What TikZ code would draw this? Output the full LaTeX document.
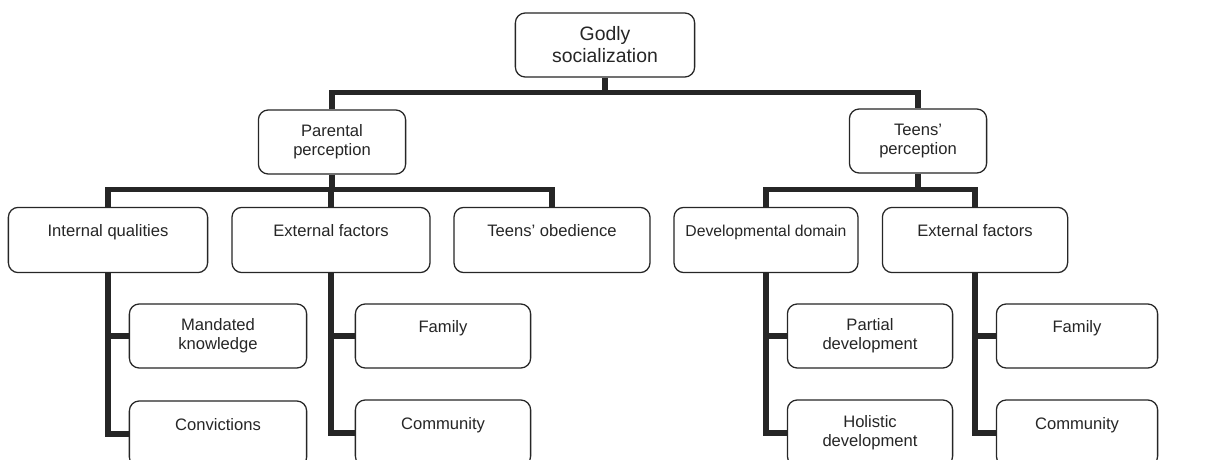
\documentclass[tikz,border=0pt]{standalone}
\usepackage{fontspec}
\setmainfont{Liberation Sans}
\definecolor{ink}{HTML}{262626}
\begin{document}
\begin{tikzpicture}[x=0.025cm, y=-0.025cm,
  every node/.style={font=\fontsize{11.8}{13.5}\selectfont, text=ink},
  box/.style={draw=ink, line width=0.9pt, rounded corners=7pt, fill=white,
    minimum height=1.6cm, inner sep=0pt, align=center},
  bar/.style={draw=ink, line width=3.6pt}]
\useasboundingbox (0,0) rectangle (1205,460);
\clip (0,0) rectangle (1205,460);
\node[box,minimum width=4.48cm,font=\fontsize{13.8}{15.6}\selectfont] (god) at (605,45) {Godly\\socialization};
\node[box,minimum width=3.68cm] (par) at (332,142) {Parental\\perception};
\node[box,minimum width=3.43cm] (teen) at (918,141) {Teens'\\perception};
\node[box,minimum width=4.98cm,minimum height=1.63cm] (iq) at (108,240) {Internal qualities\\~};
\node[box,minimum width=4.95cm,minimum height=1.63cm] (ef1) at (331,240) {External factors\\~};
\node[box,minimum width=4.9cm,minimum height=1.63cm] (tob) at (552,240) {Teens' obedience\\~};
\node[box,minimum width=4.6cm,minimum height=1.63cm,font=\fontsize{11.2}{13.5}\selectfont] (dd) at (766,240) {Developmental domain\\~};
\node[box,minimum width=4.63cm,minimum height=1.63cm] (ef2) at (975,240) {External factors\\~};
\node[box,minimum width=4.43cm] (mk) at (218,336) {Mandated\\knowledge};
\node[box,minimum width=4.43cm,minimum height=1.65cm] (conv) at (218,434) {Convictions\\~};
\node[box,minimum width=4.38cm] (fam1) at (443,336) {Family\\~};
\node[box,minimum width=4.38cm,minimum height=1.65cm] (com1) at (443,433) {Community\\~};
\node[box,minimum width=4.13cm] (pd) at (870,336) {Partial\\development};
\node[box,minimum width=4.13cm,minimum height=1.65cm] (hd) at (870,433) {Holistic\\development};
\node[box,minimum width=4.03cm] (fam2) at (1077,336) {Family\\~};
\node[box,minimum width=4.03cm,minimum height=1.65cm] (com2) at (1077,433) {Community\\~};
\draw[bar] (god.south) -- ++(0,16);
\draw[bar] (par.north) -- ++(0,-17) -| (teen.north);
\draw[bar] (par.south) -- ++(0,16);
\draw[bar] (iq.north) -- ++(0,-17) -| (tob.north);
\draw[bar] (ef1.north) -- ++(0,-17);
\draw[bar] (teen.south) -- ++(0,17);
\draw[bar] (dd.north) -- ++(0,-17) -| (ef2.north);
\draw[bar] (iq.south) |- (conv.west);
\draw[bar] (iq.south |- mk.west) -- (mk.west);
\draw[bar] (ef1.south) |- (com1.west);
\draw[bar] (ef1.south |- fam1.west) -- (fam1.west);
\draw[bar] (dd.south) |- (hd.west);
\draw[bar] (dd.south |- pd.west) -- (pd.west);
\draw[bar] (ef2.south) |- (com2.west);
\draw[bar] (ef2.south |- fam2.west) -- (fam2.west);
\end{tikzpicture}
\end{document}
